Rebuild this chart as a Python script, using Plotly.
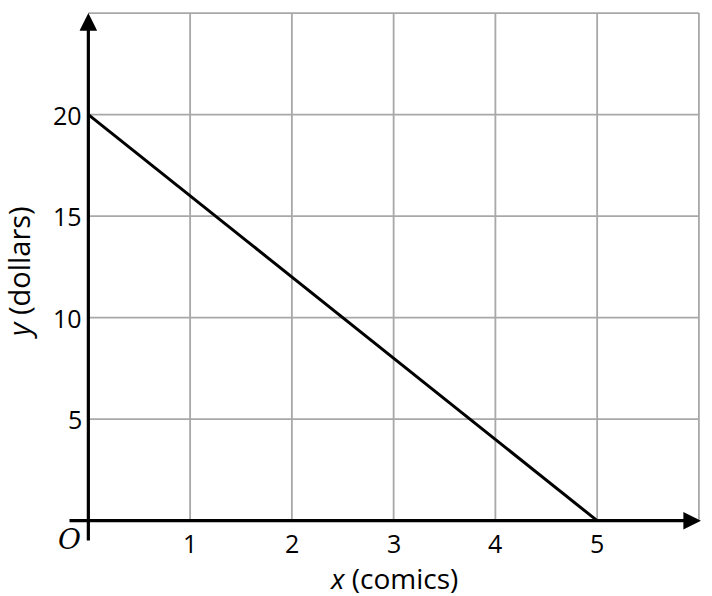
import plotly.graph_objects as go

# Data
x_vals = [0, 5]
y_vals = [20, 0]
x_ticks = [1, 2, 3, 4, 5]
y_ticks = [5, 10, 15, 20]
x_grid = [0, 1, 2, 3, 4, 5, 6]
y_grid = [0, 5, 10, 15, 20, 25]

X_MAX, Y_MAX = 6, 25
FONT = "Open Sans"
GRID = "#a8a8a8"

fig = go.Figure()

fig.add_trace(go.Scatter(x=x_vals, y=y_vals, mode="lines",
                         line=dict(color="black", width=3), showlegend=False,
                         hoverinfo="skip"))

# grid lines
for gx in x_grid[1:]:
    fig.add_shape(type="line", x0=gx, x1=gx, y0=0, y1=Y_MAX, xref="x", yref="y",
                  line=dict(color=GRID, width=1.8), layer="below")
for gy in y_grid[1:]:
    fig.add_shape(type="line", x0=0, x1=X_MAX, y0=gy, y1=gy, xref="x", yref="y",
                  line=dict(color=GRID, width=1.8), layer="below")

# axes with arrows
fig.add_annotation(x=X_MAX + 0.02, y=0, ax=-0.2, ay=0, xref="x", yref="y",
                   axref="x", ayref="y", text="", showarrow=True,
                   arrowhead=2, arrowsize=1.1, arrowwidth=3.2, arrowcolor="black")
fig.add_annotation(x=0, y=Y_MAX, ax=0, ay=-1.05, xref="x", yref="y",
                   axref="x", ayref="y", text="", showarrow=True,
                   arrowhead=2, arrowsize=1.1, arrowwidth=3.2, arrowcolor="black")

# tick labels
for t in x_ticks:
    fig.add_annotation(x=t, y=0, xref="x", yref="y", text=str(t), showarrow=False,
                       yanchor="top", yshift=-3, font=dict(family=FONT, size=25, color="black"))
for t in y_ticks:
    fig.add_annotation(x=0, y=t, xref="x", yref="y", text=str(t), showarrow=False,
                       xanchor="right", xshift=-4, font=dict(family=FONT, size=25, color="black"))
fig.add_annotation(x=0, y=0, xref="x", yref="y", text="<i>O</i>", showarrow=False,
                   xanchor="center", yanchor="middle", xshift=-19, yshift=-19,
                   font=dict(family="DejaVu Serif", size=28, color="black"))

# axis titles
fig.add_annotation(x=3.0, y=0, xref="x", yref="y", yanchor="top", yshift=-36,
                   text="<i>x</i> (comics)", showarrow=False,
                   font=dict(family=FONT, size=28, color="black"))
fig.add_annotation(x=0, y=12.2, xref="paper", yref="y", xanchor="center",
                   xshift=-49, text="<i>y</i> (dollars)", showarrow=False, textangle=-90,
                   font=dict(family=FONT, size=29, color="black"))

fig.update_xaxes(range=[-0.2, 6.05], showgrid=False, zeroline=False, showticklabels=False,
                 showline=False, ticks="")
fig.update_yaxes(range=[-1.05, 25.1], showgrid=False, zeroline=False, showticklabels=False,
                 showline=False, ticks="")
fig.update_layout(width=712, height=596, margin=dict(l=68, r=8, t=11, b=54),
                  plot_bgcolor="white", paper_bgcolor="white")

# remove the default page margin so the figure fills the window exactly
fig.write_html("out.html", config={"displayModeBar": False},
               post_script="document.body.style.margin='0';document.body.style.overflow='hidden';")
